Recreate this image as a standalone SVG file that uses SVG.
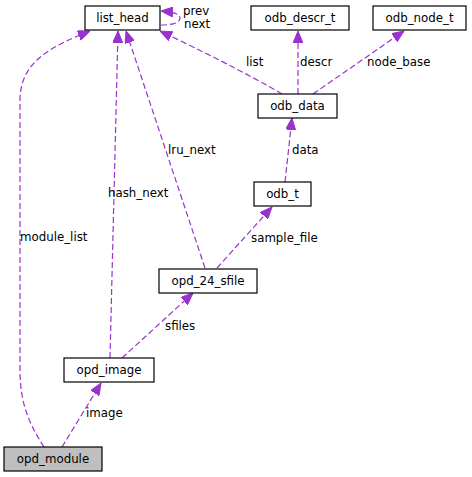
<svg xmlns="http://www.w3.org/2000/svg" width="472" height="477" viewBox="0 0 472 477">
<style>
.n rect{fill:#fff;stroke:#000;stroke-width:1.2}
.n text,.lbl{font-family:"DejaVu Sans",sans-serif;font-size:11.8px;fill:#000}
.n text{text-anchor:middle}
.e path{fill:none;stroke:#9a32cd;stroke-width:1.2;stroke-dasharray:6,3;marker-end:url(#ah)}
</style>
<defs>
<marker id="ah" markerUnits="userSpaceOnUse" markerWidth="12" markerHeight="10" refX="12" refY="5" orient="auto">
<path d="M0,0 L12,5 L0,10 z" fill="#9a32cd" stroke="#9a32cd"/>
</marker>
</defs>
<g id="edges" class="e">
<path d="M44,447 C30,425 20,405 20,370 L20,100 C20,60 55,45 90,31"/>
<path d="M110,358 L118,31"/>
<path d="M205,268 L126,31"/>
<path d="M282,94 C250,75 200,50 160,31"/>
<path d="M161,25 C175,25 180,22 180,18 C180,14 173,12 161,11"/>
<path d="M298,94 L298,31"/>
<path d="M313,94 L404,31"/>
<path d="M285,182 L292,118"/>
<path d="M217,268 L272,207"/>
<path d="M122,358 L193,293"/>
<path d="M62,447 L101,383"/>
</g>
<g id="labels">
<text class="lbl" x="183" y="15">prev</text>
<text class="lbl" x="184" y="28">next</text>
<text class="lbl" x="20" y="241">module_list</text>
<text class="lbl" x="108" y="197">hash_next</text>
<text class="lbl" x="168" y="154">lru_next</text>
<text class="lbl" x="246" y="66">list</text>
<text class="lbl" x="300" y="66">descr</text>
<text class="lbl" x="367" y="66">node_base</text>
<text class="lbl" x="292" y="154">data</text>
<text class="lbl" x="251" y="242">sample_file</text>
<text class="lbl" x="165" y="330">sfiles</text>
<text class="lbl" x="86" y="417">image</text>
</g>
<g id="list_head" class="n"><rect x="85" y="6" width="75" height="24"/><text x="122.5" y="22">list_head</text></g>
<g id="odb_descr_t" class="n"><rect x="251" y="6" width="98" height="24"/><text x="300" y="22">odb_descr_t</text></g>
<g id="odb_node_t" class="n"><rect x="373" y="6" width="93" height="24"/><text x="419.5" y="22">odb_node_t</text></g>
<g id="odb_data" class="n"><rect x="258" y="94" width="79" height="24"/><text x="297.5" y="110">odb_data</text></g>
<g id="odb_t" class="n"><rect x="254" y="182" width="57" height="24"/><text x="282.5" y="198">odb_t</text></g>
<g id="opd_24_sfile" class="n"><rect x="159" y="269" width="98" height="24"/><text x="208" y="285">opd_24_sfile</text></g>
<g id="opd_image" class="n"><rect x="64" y="358" width="90" height="24"/><text x="109" y="374">opd_image</text></g>
<g id="opd_module" class="n"><rect x="4" y="447" width="98" height="24" style="fill:#bfbfbf"/><text x="53" y="463">opd_module</text></g>
</svg>
